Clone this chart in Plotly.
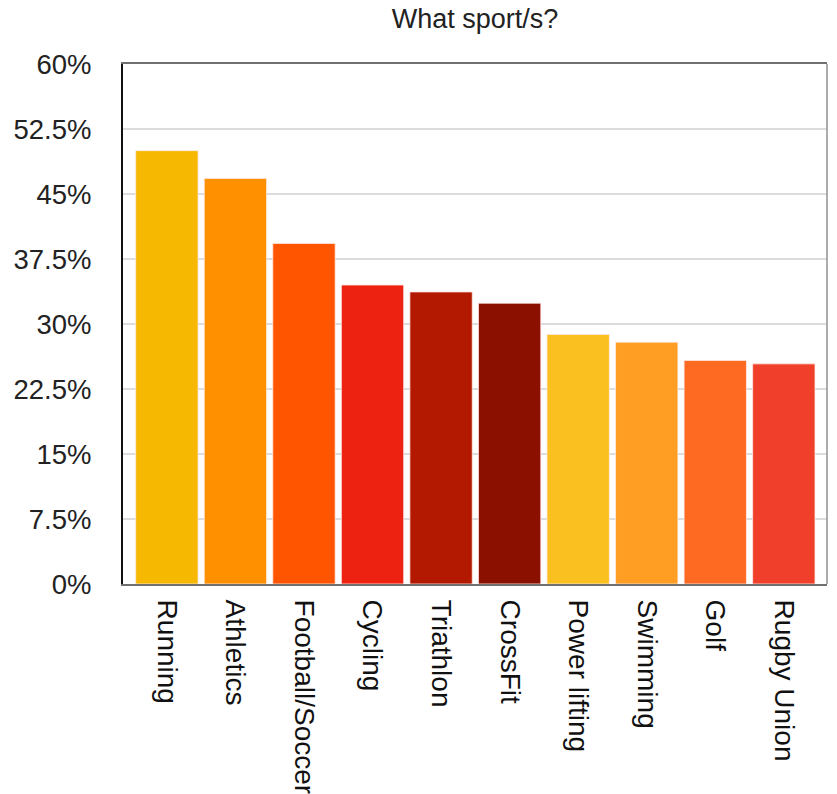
import plotly.graph_objects as go

sports = ["Running", "Athletics", "Football/Soccer", "Cycling", "Triathlon",
          "CrossFit", "Power lifting", "Swimming", "Golf", "Rugby Union"]
share = [50.0, 46.8, 39.3, 34.5, 33.7, 32.4, 28.8, 27.9, 25.8, 25.4]
bar_colors = ["#F6B800", "#FF9100", "#FF5500", "#EE2210", "#B31800",
              "#8C1000", "#F9C020", "#FF9E22", "#FF6A22", "#F0402C"]
y_ticks = [0, 7.5, 15, 22.5, 30, 37.5, 45, 52.5, 60]
y_tick_text = ["0%", "7.5%", "15%", "22.5%", "30%", "37.5%", "45%", "52.5%", "60%"]

font_family = "Liberation Sans, Arial, Helvetica, sans-serif"

fig = go.Figure(go.Bar(
    x=list(range(len(sports))),
    y=share,
    marker=dict(color=bar_colors, line=dict(color="rgba(255,235,230,0.8)", width=1)),
    width=0.91,
    hoverinfo="skip",
))

fig.update_layout(
    width=837, height=794,
    margin=dict(l=123, r=10, t=64, b=210),
    paper_bgcolor="white", plot_bgcolor="white",
    showlegend=False,
    font=dict(family=font_family, color="#222222", size=27),
    title=dict(text="What sport/s?", x=0.5, xref="paper", xanchor="center",
               y=1 - 19 / 794, yref="container", yanchor="middle",
               font=dict(size=27, color="#222222", family=font_family)),
)

fig.update_xaxes(
    tickmode="array",
    tickvals=list(range(len(sports))),
    ticktext=sports,
    tickangle=90,
    range=[-0.64, 9.63],
    automargin=False,
    showgrid=False,
    showline=True, linecolor="#707070", linewidth=2, mirror=True,
    ticks="", ticklabelstandoff=8,
    tickfont=dict(size=28, color="#111111"),
)

fig.update_yaxes(
    range=[0, 60],
    tickmode="array",
    tickvals=y_ticks,
    ticktext=y_tick_text,
    automargin=False,
    showgrid=True, gridcolor="#dcdcdc", gridwidth=2,
    zeroline=False,
    showline=True, linecolor="#111111", linewidth=2,
    ticks="", ticklabelstandoff=24,
    tickfont=dict(size=27.5, color="#222222"),
)

# right edge of the plot frame
fig.add_shape(type="line", xref="paper", yref="paper", x0=1, x1=1, y0=0, y1=1,
              line=dict(color="#909090", width=1.5))

fig.write_html("out.html")
